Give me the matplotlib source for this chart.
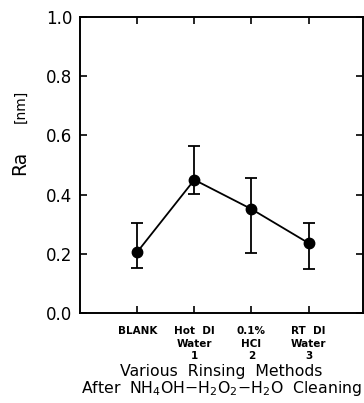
import matplotlib
matplotlib.use("Agg")
import matplotlib.pyplot as plt

# Surface roughness after each rinse
methods = ["BLANK", "Hot  DI\nWater\n1", "0.1%\nHCl\n2", "RT  DI\nWater\n3"]
ra_mean = [0.206, 0.450, 0.351, 0.236]
ra_low = [0.153, 0.402, 0.203, 0.150]
ra_high = [0.304, 0.564, 0.456, 0.304]

plt.rcParams["font.family"] = ["DejaVu Sans"]

fig = plt.figure(figsize=(3.64, 4.03), dpi=100)
ax = fig.add_axes([0.22, 0.2233, 0.777, 0.7345])

x = list(range(1, len(methods) + 1))
yerr = [
    [m - lo for m, lo in zip(ra_mean, ra_low)],
    [hi - m for m, hi in zip(ra_mean, ra_high)],
]
ax.errorbar(
    x, ra_mean, yerr=yerr,
    color="black", linewidth=1.3, elinewidth=1.3,
    marker="o", markersize=7.5, capsize=4.5, capthick=1.3,
)

ax.set_xlim(0, 4.95)
ax.set_ylim(0, 1.0)
ax.set_xticks(x)
ax.set_xticklabels(methods, fontsize=7.5, fontweight="bold", linespacing=1.3)
ax.set_yticks([0.0, 0.2, 0.4, 0.6, 0.8, 1.0])
ax.set_yticklabels(["0.0", "0.2", "0.4", "0.6", "0.8", "1.0"], fontsize=12)

ax.tick_params(direction="in", length=5, width=1.2, top=True, right=True)
ax.tick_params(axis="y", pad=5.5)
ax.tick_params(axis="x", pad=9.5)
for s in ax.spines.values():
    s.set_linewidth(1.4)

ax.set_xlabel(
    "Various  Rinsing  Methods\nAfter  NH$_4$OH$-$H$_2$O$_2$$-$H$_2$O  Cleaning",
    fontsize=11.3, linespacing=1.05, labelpad=2,
)

# two-size y label: "Ra" large, unit smaller
fig.text(0.055, 0.595, "Ra", rotation=90, fontsize=13.5, ha="center", va="center")
fig.text(0.057, 0.735, "[nm]", rotation=90, fontsize=10, ha="center", va="center")

fig.savefig("out.png", dpi=100)
